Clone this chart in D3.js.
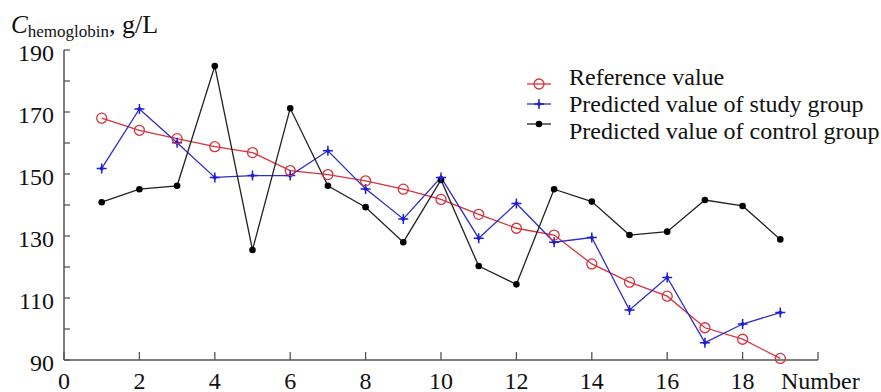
<!DOCTYPE html>
<html>
<head>
<meta charset="utf-8">
<script src="https://cdn.jsdelivr.net/npm/d3@7"></script>
<style>
  body { margin: 0; background: #fff; }
  svg { display: block; font-family: "Liberation Serif", "Times New Roman", serif; }
</style>
</head>
<body>
<svg id="chart" width="881" height="392"></svg>
<script>
// data
var numbers = [1,2,3,4,5,6,7,8,9,10,11,12,13,14,15,16,17,18,19];
var referenceValue = [168.0,164.1,161.4,158.8,156.9,151.1,149.8,147.8,145.1,141.8,137.0,132.5,130.3,121.0,115.1,110.6,100.4,96.7,90.5];
var studyGroup = [151.8,171.0,160.1,148.9,149.5,149.5,157.5,145.2,135.5,148.9,129.3,140.5,128.0,129.5,106.1,116.6,95.6,101.6,105.3];
var controlGroup = [140.9,145.1,146.2,184.8,125.5,171.2,146.2,139.3,128.0,148.1,120.3,114.4,145.1,141.1,130.3,131.4,141.6,139.7,128.9];
var xTicks = [0,2,4,6,8,10,12,14,16,18,20];
var yTicks = [90,110,130,150,170,190];
var yMinorTicks = [90,100,110,120,130,140,150,160,170,180,190];
var legendNames = ["Reference value", "Predicted value of study group", "Predicted value of control group"];

var svg = d3.select("#chart");
var x = d3.scaleLinear().domain([0, 20]).range([64, 818]);
var y = d3.scaleLinear().domain([90, 190]).range([360, 50]);
var axisColor = "#555";

// y axis, ticks pointing inward
var gy = svg.append("g").attr("transform", "translate(" + x(0) + ",0)");
gy.append("line").attr("x1",0).attr("x2",0).attr("y1",y(190)).attr("y2",y(90))
  .attr("stroke",axisColor).attr("stroke-width",1.5);
gy.selectAll(".ytick").data(yMinorTicks).enter().append("line")
  .attr("x1",0).attr("x2",6).attr("y1",function(d){return y(d);}).attr("y2",function(d){return y(d);})
  .attr("stroke",axisColor).attr("stroke-width",1.3);
svg.selectAll(".ylab").data(yTicks).enter().append("text")
  .attr("x",54).attr("y",function(d){return y(d) + 3;}).attr("dy","0.35em")
  .attr("text-anchor","end").attr("font-size","24px").attr("fill","#111")
  .text(function(d){return d;});

// x axis
var gx = svg.append("g").attr("transform", "translate(0," + y(90) + ")");
gx.append("line").attr("x1",x(0)).attr("x2",x(20)).attr("y1",0).attr("y2",0)
  .attr("stroke",axisColor).attr("stroke-width",1.5);
gx.selectAll(".xtick").data(xTicks).enter().append("line")
  .attr("x1",function(d){return x(d);}).attr("x2",function(d){return x(d);})
  .attr("y1",0).attr("y2",-8).attr("stroke",axisColor).attr("stroke-width",1.3);
svg.selectAll(".xlab").data(xTicks.slice(0, xTicks.length-1)).enter().append("text")
  .attr("x",function(d){return x(d);}).attr("y",389)
  .attr("text-anchor","middle").attr("font-size","24px").attr("fill","#111")
  .text(function(d){return d;});
svg.append("text").attr("x",781).attr("y",389)
  .attr("font-size","24px").attr("fill","#111").text("Number");

// y title
var title = svg.append("text").attr("x",11).attr("y",33).attr("fill","#111");
title.append("tspan").attr("font-style","italic").attr("font-size","25px").text("C");
title.append("tspan").attr("font-size","17px").attr("dy","4").text("hemoglobin");
title.append("tspan").attr("font-size","26px").attr("dy","-4").text(",\u00a0g/L");

var line = d3.line().x(function(d){return x(d[0]);}).y(function(d){return y(d[1]);});

function drawSeries(vals, color){
  var pts = numbers.map(function(n,i){return [n, vals[i]];});
  svg.append("path").datum(pts).attr("d",line).attr("fill","none")
    .attr("stroke",color).attr("stroke-width",1.3);
  return pts;
}

function circleMark(g, cx, cy){
  g.append("circle").attr("cx",cx).attr("cy",cy).attr("r",5)
    .attr("fill","none").attr("stroke","#d8323c").attr("stroke-width",1.3);
}
function starMark(g, cx, cy){
  var s = 5;
  g.append("path")
    .attr("d","M"+(cx-s)+","+cy+"H"+(cx+s)+"M"+cx+","+(cy-s)+"V"+(cy+s))
    .attr("stroke","#1f1fd6").attr("stroke-width",1.5);
  g.append("path")
    .attr("d","M"+cx+","+(cy-2.6)+"L"+(cx+2.6)+","+cy+"L"+cx+","+(cy+2.6)+"L"+(cx-2.6)+","+cy+"Z")
    .attr("fill","#1f1fd6");
}
function dotMark(g, cx, cy){
  g.append("circle").attr("cx",cx).attr("cy",cy).attr("r",3.3).attr("fill","#000");
}

var refPts = drawSeries(referenceValue, "#d8323c");
var stuPts = drawSeries(studyGroup, "#2e2ec8");
var conPts = drawSeries(controlGroup, "#222");
var mk = svg.append("g");
conPts.forEach(function(p){ dotMark(mk, x(p[0]), y(p[1])); });
stuPts.forEach(function(p){ starMark(mk, x(p[0]), y(p[1])); });
refPts.forEach(function(p){ circleMark(mk, x(p[0]), y(p[1])); });

// legend
var markers = [circleMark, starMark, dotMark];
var lineColors = ["#d8323c", "#2e2ec8", "#222"];
var markerY = [84, 104, 124];
var textY = [85, 112, 139];
legendNames.forEach(function(name, i){
  var ly = markerY[i];
  svg.append("line").attr("x1",527).attr("x2",551).attr("y1",ly).attr("y2",ly)
    .attr("stroke",lineColors[i]).attr("stroke-width",1.3);
  markers[i](svg, 539, ly);
  svg.append("text").attr("x",569).attr("y",textY[i])
    .attr("font-size","24px").attr("fill","#111").text(name);
});
</script>
</body>
</html>
